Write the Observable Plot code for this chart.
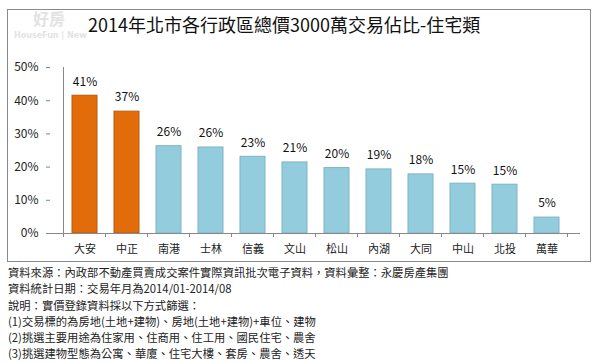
<!DOCTYPE html>
<html>
<head>
<meta charset="utf-8">
<script src="https://cdn.jsdelivr.net/npm/d3@7"></script>
<script src="https://cdn.jsdelivr.net/npm/@observablehq/plot@0.6"></script>
<style>
  html, body { margin: 0; padding: 0; background: #fff; }
  #wrap { position: relative; width: 600px; height: 363px; overflow: hidden; background: #fff; font-family: "Noto Sans CJK TC", "Noto Sans", sans-serif; }
  #box { position: absolute; left: 7px; top: 9px; width: 584px; height: 253px; border: 1px solid #8a8a8a; box-sizing: border-box; }
  #title { position: absolute; left: 88px; top: 12px; font-size: 18px; line-height: 24px; color: #111; font-family: "Noto Sans CJK TC", sans-serif; white-space: nowrap; }
  #wm1 { position: absolute; left: 33px; top: 10px; font-size: 16px; line-height: 16px; height: 16px; color: #e3e3e3; font-weight: bold; font-family: "Noto Sans CJK TC", sans-serif; }
  #wm2 { position: absolute; left: 14px; top: 32px; font-size: 8px; line-height: 8px; height: 8px; color: #e3e3e3; font-weight: bold; font-family: "DejaVu Sans", sans-serif; white-space: nowrap; }
  #chart { position: absolute; left: 0; top: 0; }
  #notes { position: absolute; left: 8px; top: 264px; font-size: 11.3px; line-height: 16.3px; color: #222; font-family: "Noto Sans CJK TC", sans-serif; }
</style>
</head>
<body>
<div id="wrap">
  <div id="box"></div>
  <div id="wm1">好房</div>
  <div id="wm2">HouseFun | New</div>
  <div id="title">2014年北市各行政區總價3000萬交易佔比-住宅類</div>
  <div id="chart"></div>
  <div id="notes"></div>
</div>
<script>
const districts = ["大安", "中正", "南港", "士林", "信義", "文山", "松山", "內湖", "大同", "中山", "北投", "萬華"];
const shares = [41.5, 36.7, 26.3, 25.9, 23.1, 21.4, 19.7, 19.3, 17.8, 15.0, 14.7, 4.8];
const shareLabels = ["41%", "37%", "26%", "26%", "23%", "21%", "20%", "19%", "18%", "15%", "15%", "5%"];
const highlighted = ["大安", "中正"];
const yTicks = [0, 10, 20, 30, 40, 50];
const notes = [
  "資料來源：內政部不動產買賣成交案件實際資訊批次電子資料，資料彙整：永慶房產集團",
  "資料統計日期：交易年月為2014/01-2014/08",
  "說明：實價登錄資料採以下方式篩選：",
  "(1)交易標的為房地(土地+建物)、房地(土地+建物)+車位、建物",
  "(2)挑選主要用途為住家用、住商用、住工用、國民住宅、農舍",
  "(3)挑選建物型態為公寓、華廈、住宅大樓、套房、農舍、透天"
];

const data = districts.map((d, i) => ({district: d, share: shares[i], label: shareLabels[i], hi: highlighted.includes(d)}));

const chart = Plot.plot({
  width: 600,
  height: 263,
  marginLeft: 50,
  marginRight: 20,
  marginTop: 67,
  marginBottom: 30,
  style: {fontFamily: "'Noto Sans CJK TC', sans-serif", fontSize: "12px", color: "#222", background: "transparent"},
  x: {domain: districts, padding: 0.41, label: null},
  y: {domain: [0, 50], label: null},
  marks: [
    Plot.barY(data, {
      x: "district", y: "share",
      fill: d => d.hi ? "#E36C0A" : "#93CDDD",
      stroke: d => d.hi ? "#B65A12" : "#7DB3C6",
      strokeWidth: 1
    }),
    Plot.text(data, {x: "district", y: "share", text: "label", dy: -14, fontSize: 12, fill: "#111"}),
    Plot.axisY({ticks: yTicks, tickFormat: d => d + "%", tickSize: 4, tickPadding: 8, stroke: "#888", fontSize: 12, fill: "#222"}),
    Plot.axisX({tickSize: 0, tickPadding: 12, fontSize: 11, fill: "#222"}),
    Plot.ruleY([0], {stroke: "#888"})
  ]
});

// y-axis line and category separator ticks, positioned from the chart's own scales
const xs = chart.scale("x");
const ys = chart.scale("y");
const svg = d3.select(chart);
const step = xs.step;
const band0 = xs.apply(districts[0]) - (step - xs.bandwidth) / 2;
const y0 = ys.apply(0);
const g = svg.append("g").attr("stroke", "#888");
g.append("line").attr("x1", band0).attr("x2", band0).attr("y1", ys.apply(50)).attr("y2", y0);
for (let i = 0; i <= districts.length; i++) {
  const x = band0 + i * step;
  g.append("line").attr("x1", x).attr("x2", x).attr("y1", y0).attr("y2", y0 + 4);
}
document.getElementById("chart").appendChild(chart);
document.getElementById("notes").innerHTML = notes.map(n => "<div>" + n + "</div>").join("");
</script>
</body>
</html>
